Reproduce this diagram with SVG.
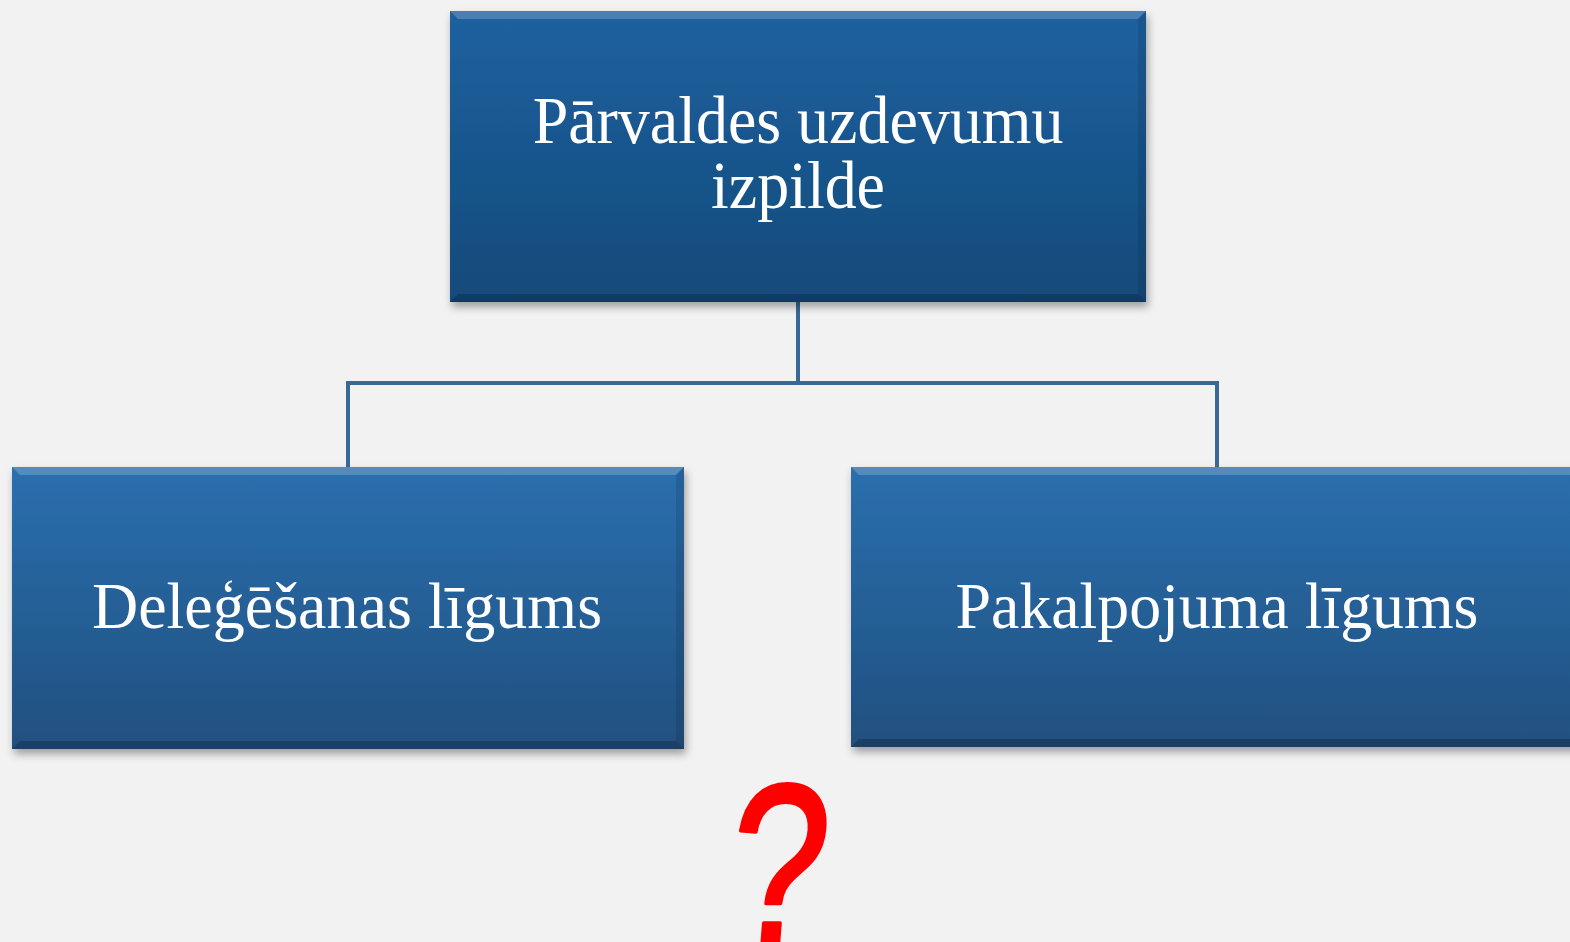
<svg xmlns="http://www.w3.org/2000/svg" width="1570" height="942" viewBox="0 0 1570 942">
<defs>
<linearGradient id="gTop" x1="0" y1="0" x2="0" y2="1">
<stop offset="0" stop-color="#1c61a0"/>
<stop offset="1" stop-color="#164a7a"/>
</linearGradient>
<linearGradient id="gLow" x1="0" y1="0" x2="0" y2="1">
<stop offset="0" stop-color="#2a6fae"/>
<stop offset="1" stop-color="#20507f"/>
</linearGradient>
<filter id="sh" x="-5%" y="-5%" width="115%" height="120%">
<feDropShadow dx="2" dy="5" stdDeviation="4" flood-color="#000" flood-opacity="0.35"/>
</filter>
<style>
.lbl{font-family:"Liberation Serif","Times New Roman",serif;fill:#ffffff;text-anchor:middle}
.edge{fill:none;stroke:#3a6896;stroke-width:4}
.bevT{fill:#ffffff;opacity:0.2}
.bevB{fill:#000000;opacity:0.2}
.bevS{fill:#000000;opacity:0.1}
</style>
</defs>
<rect width="1570" height="942" fill="#f2f2f2"/>
<g id="connectors">
<path class="edge" d="M798 302 V383 M348 383 H1217 M348 381 V467 M1217 381 V467"/>
</g>
<g id="node-top">
<rect x="450" y="11" width="696" height="291" fill="url(#gTop)" filter="url(#sh)"/>
<polygon class="bevT" points="450,11 1146,11 1138,19 458,19"/>
<polygon class="bevB" points="450,302 1146,302 1138,294 458,294"/>
<polygon class="bevS" points="1146,11 1146,302 1138,294 1138,19"/>
<text class="lbl" transform="translate(798 143) scale(0.94 1)" font-size="68">Pārvaldes uzdevumu</text>
<text class="lbl" transform="translate(798 208) scale(0.94 1)" font-size="68">izpilde</text>
</g>
<g id="node-left">
<rect x="12" y="467" width="672" height="282" fill="url(#gLow)" filter="url(#sh)"/>
<polygon class="bevT" points="12,467 684,467 676,475 20,475"/>
<polygon class="bevB" points="12,749 684,749 676,741 20,741"/>
<polygon class="bevS" points="684,467 684,749 676,741 676,475"/>
<text class="lbl" transform="translate(347 628) scale(0.97 1)" font-size="66">Deleģēšanas līgums</text>
</g>
<g id="node-right">
<rect x="851" y="467" width="732" height="280" fill="url(#gLow)" filter="url(#sh)"/>
<polygon class="bevT" points="851,467 1583,467 1575,475 859,475"/>
<polygon class="bevB" points="851,747 1583,747 1575,739 859,739"/>
<text class="lbl" transform="translate(1217 628) scale(0.967 1)" font-size="66">Pakalpojuma līgums</text>
</g>
<g id="question">
<text transform="translate(773 946) scale(0.76 1) skewX(-6)" font-family="Liberation Sans, Arial, sans-serif" font-size="232" fill="#ff0000" stroke="#ff0000" stroke-width="4" stroke-linejoin="round" text-anchor="middle">?</text>
</g>
</svg>
